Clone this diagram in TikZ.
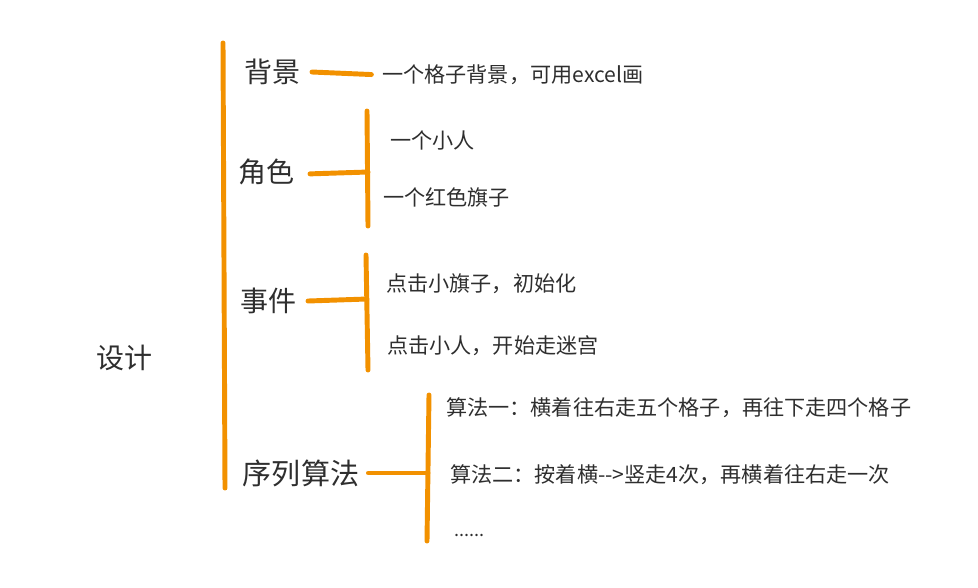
\documentclass[tikz,border=0pt]{standalone}
\usepackage{fontspec}
\setmainfont{Noto Sans CJK SC}
\usetikzlibrary{calc}
\definecolor{tratto}{HTML}{F29100}
\definecolor{testo}{HTML}{2E2E2E}
\tikzset{
    tratto/.style = {draw = tratto, line width = 3.7pt, line cap = round},
    titolo/.style = {inner sep = 0pt, outer xsep = 9pt, text = testo, font = \fontsize{21pt}{24pt}\selectfont},
    voce/.style = {inner sep = 0pt, anchor = west, text = testo, font = \fontsize{15.85pt}{19pt}\selectfont}
}
\begin{document}
\begin{tikzpicture}[x = 0.75pt, y = -0.75pt]
    \useasboundingbox (0,0) rectangle (978,587);
    % Titoli
    \node[titolo] (design) at (124,358) {设计};
    \node[titolo] (bgHead) at (272,72) {背景};
    \node[titolo] (roleHead) at (266,172) {角色};
    \node[titolo] (eventHead) at (268,301) {事件};
    \node[titolo, outer xsep = 7pt, font = \fontsize{21.8pt}{24pt}\selectfont] (seqHead) at (301,473) {序列算法};
    % Voci
    \node[voce] (bgText) at (382,75) {一个格子背景，可用excel画};
    \node[voce] (roleA) at (390,140) {一个小人};
    \node[voce] (roleB) at (383,197) {一个红色旗子};
    \node[voce] (eventA) at (386,284) {点击小旗子，初始化};
    \node[voce] (eventB) at (387,346) {点击小人，开始走迷宫};
    \node[voce] (seqA) at (446,408) {算法一：横着往右走五个格子，再往下走四个格子};
    \node[voce] (seqB) at (450,475) {算法二：按着横{-}{-}>竖走4次，再横着往右走一次};
    \node[voce, font = \fontsize{13.5pt}{19pt}\selectfont] (seqC) at (454,535) {......};
    % Estremi delle parentesi
    \coordinate (trunkTop) at (223,43);
    \coordinate (trunkEnd) at (225,488);
    \coordinate (roleTop) at (367,111);
    \coordinate (roleEnd) at (368,226);
    \coordinate (roleMid) at (368,172);
    \coordinate (eventTop) at (366,255);
    \coordinate (eventEnd) at (368,370);
    \coordinate (eventMid) at (367,299);
    \coordinate (seqTop) at (429,395);
    \coordinate (seqEnd) at (427,541);
    \coordinate (seqMid) at (428,473);
    % Tratti
    \draw[tratto] (trunkTop) -- (trunkEnd);
    \draw[tratto, shorten > = 8pt] (bgHead.east) -- (bgText.west);
    \draw[tratto] (roleTop) -- (roleEnd);
    \draw[tratto, shorten < = 3pt] ($(roleHead.east) + (0,2)$) -- (roleMid);
    \draw[tratto] (eventTop) -- (eventEnd);
    \draw[tratto] (eventHead.east) -- (eventMid);
    \draw[tratto] (seqTop) -- (seqEnd);
    \draw[tratto] (seqHead.east) -- (seqMid);
\end{tikzpicture}
\end{document}
